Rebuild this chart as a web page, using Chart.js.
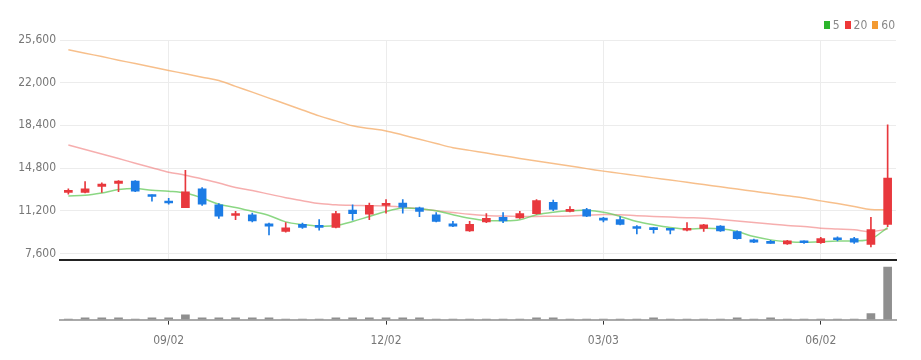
<!DOCTYPE html>
<html>
<head>
<meta charset="utf-8">
<script src="https://cdn.jsdelivr.net/npm/chart.js@4.4.1/dist/chart.umd.min.js"></script>
<style>
  html, body { margin: 0; padding: 0; background: #fff; }
  #wrap { position: relative; width: 921px; height: 360px; overflow: hidden;
          font-family: "DejaVu Sans Condensed", "Liberation Sans", sans-serif; }
  #main { position: absolute; left: 0; top: 0; }
  #vol  { position: absolute; left: 0; top: 260px; }
  #legend { position: absolute; top: 18px; right: 26px; display: flex; gap: 5px;
            font-size: 12px; color: #888; line-height: 14px; }
  #legend span { display: inline-flex; align-items: center; gap: 3px; }
  #legend i { display: inline-block; width: 6px; height: 8px; }
</style>
</head>
<body>
<div id="wrap">
  <canvas id="main" width="921" height="271"></canvas>
  <canvas id="vol" width="921" height="100"></canvas>
  <div id="legend">
    <span><i style="background:#2cb52c"></i>5</span>
    <span><i style="background:#ee3838"></i>20</span>
    <span><i style="background:#f39a32"></i>60</span>
  </div>
</div>
<script>
// weekly candles, 07/22 -> 06/30
const weeks = ["07/22","07/29","08/05","08/12","08/19","08/26","09/02","09/09","09/16","09/23",
  "09/30","10/07","10/14","10/21","10/28","11/04","11/11","11/18","11/25","12/02",
  "12/09","12/16","12/23","12/30","01/06","01/13","01/20","01/27","02/03","02/10",
  "02/17","02/24","03/03","03/10","03/17","03/24","03/31","04/07","04/14","04/21",
  "04/28","05/05","05/12","05/19","05/26","06/02","06/09","06/16","06/23","06/30"];
const tickLabels = ["09/02","12/02","03/03","06/02"];
const yTicks = [7600, 11200, 14800, 18400, 22000, 25600];

const openP = [12750,12750,13250,13500,13700,12500,12000,11450,13050,11700,
  10800,10850,10100,9450,10050,9900,9800,11250,10900,11650,
  11850,11450,10850,10100,9500,10250,10650,10600,10950,11900,
  11150,11300,10500,10450,9850,9700,9650,9550,9700,9900,
  9450,8750,8550,8400,8550,8500,8850,8850,8350,10050];
const highP = [13050,13650,13550,13750,13750,12550,12250,14600,13150,11800,
  11150,11000,10150,10200,10150,10450,11150,11700,11850,12150,
  12150,11500,11050,10300,10300,10950,11050,11150,12150,12100,
  11550,11400,10650,10700,9950,9800,9700,10200,10050,9950,
  9500,8800,8700,8700,8650,8950,9000,8950,10650,18450];
const lowP = [12600,12700,12750,12800,12800,12000,11750,11450,11650,10550,
  10450,10250,9150,9400,9700,9550,9750,10400,10450,11000,
  11000,10700,10250,9850,9450,10200,10200,10550,10900,11200,
  11100,10700,10250,10000,9250,9300,9250,9500,9450,9450,
  8800,8500,8450,8350,8450,8450,8650,8450,8150,9850];
const closeP = [12850,13050,13450,13700,12850,12400,11850,12800,11750,10750,
  10900,10350,9900,9750,9800,9800,10950,10950,11650,11750,
  11500,11150,10300,9900,10050,10550,10350,10950,12050,11300,
  11250,10750,10400,10050,9700,9600,9550,9700,10000,9500,
  8850,8550,8450,8650,8500,8850,8750,8550,9600,13950];

const ma5 = [12450,12500,12700,12980,13080,12930,12850,12700,12270,11750,
  11480,11150,10800,10260,10030,9900,9950,10290,10720,11140,
  11420,11370,11200,10860,10570,10380,10350,10440,10860,11080,
  11200,11230,11070,10720,10290,10010,9780,9640,9720,9670,
  9440,9020,8740,8590,8530,8590,8650,8650,8820,9780];
const ma20 = [16750,16360,15980,15600,15210,14830,14450,14200,13880,13540,
  13150,12900,12600,12300,12050,11800,11700,11650,11620,11600,
  11500,11370,11200,11050,10900,10800,10750,10720,10720,10730,
  10760,10820,10880,10850,10780,10720,10660,10610,10570,10450,
  10330,10200,10080,9960,9870,9730,9660,9590,9440,9650];
const ma60 = [24780,24490,24200,23900,23610,23320,23030,22750,22460,22180,
  21690,21200,20700,20200,19700,19200,18780,18360,18140,17930,
  17580,17230,16870,16520,16290,16060,15840,15610,15400,15180,
  14970,14750,14540,14350,14160,13970,13790,13600,13410,13220,
  13030,12840,12650,12460,12270,12030,11800,11560,11300,11280];

const volume = [50,180,180,180,50,180,180,480,180,180,
  180,180,180,50,50,50,180,180,180,180,
  180,180,50,50,50,50,50,50,180,180,
  50,50,50,50,50,180,50,50,50,50,
  180,50,180,50,50,50,50,50,600,5200];

const UP = "#e8383d";
const DOWN = "#1c7ce5";
const FONT = { family: "'DejaVu Sans Condensed', 'Liberation Sans', sans-serif", size: 12 };

const candleColors = openP.map((o, i) => closeP[i] >= o ? UP : DOWN);
const bodies = openP.map((o, i) => [o, closeP[i]]);
const wicks = lowP.map((l, i) => [l, highP[i]]);

// only keep the dated ticks (and their grid lines)
function keepDateTicks(scale){
  scale.ticks = scale.ticks.filter(t => tickLabels.includes(weeks[t.value]));
}

new Chart(document.getElementById("main"), {
  data: {
    labels: weeks,
    datasets: [
      { type: "bar", data: bodies, backgroundColor: candleColors, barThickness: 8,
        grouped: false, minBarLength: 2, order: 0 },
      { type: "bar", data: wicks, backgroundColor: candleColors, barThickness: 1,
        grouped: false, order: 1 },
      { type: "line", data: ma5, borderColor: "rgba(110,205,100,0.8)", borderWidth: 1.5,
        pointRadius: 0, tension: 0.35, order: 2 },
      { type: "line", data: ma20, borderColor: "rgba(240,120,120,0.6)", borderWidth: 1.5,
        pointRadius: 0, tension: 0.35, order: 3 },
      { type: "line", data: ma60, borderColor: "rgba(244,170,100,0.75)", borderWidth: 1.5,
        pointRadius: 0, tension: 0.35, order: 4 }
    ]
  },
  options: {
    responsive: false,
    animation: false,
    layout: { padding: { top: 40, right: 25, bottom: 2, left: 0 } },
    plugins: { legend: { display: false }, tooltip: { enabled: false } },
    scales: {
      x: {
        offset: true,
        afterBuildTicks: keepDateTicks,
        grid: { offset: false, color: "#ececec", drawTicks: false },
        border: { color: "#222", width: 2 },
        ticks: { display: false, autoSkip: false }
      },
      y: {
        min: 7060,
        max: 25600,
        afterBuildTicks: s => { s.ticks = yTicks.map(v => ({ value: v })); },
        afterFit: s => { s.width = 60; },
        grid: { color: "#ececec", drawTicks: false },
        border: { display: false },
        ticks: { color: "#777", padding: 4, font: FONT, callback: v => v.toLocaleString("en-US") }
      }
    }
  }
});

new Chart(document.getElementById("vol"), {
  type: "bar",
  data: {
    labels: weeks,
    datasets: [{ data: volume, backgroundColor: "#8f8f8f", barThickness: 8 }]
  },
  options: {
    responsive: false,
    animation: false,
    layout: { padding: { top: 3, right: 25, bottom: 3, left: 0 } },
    plugins: { legend: { display: false }, tooltip: { enabled: false } },
    scales: {
      x: {
        afterBuildTicks: keepDateTicks,
        grid: { offset: false, drawOnChartArea: false, tickLength: 5, tickColor: "#333" },
        border: { color: "#aaa", width: 2 },
        ticks: { color: "#777", font: FONT, autoSkip: false, maxRotation: 0, padding: 9 }
      },
      y: {
        min: 0,
        max: 5600,
        afterFit: s => { s.width = 60; },
        grid: { display: false },
        border: { display: false },
        ticks: { display: false }
      }
    }
  }
});
</script>
</body>
</html>
